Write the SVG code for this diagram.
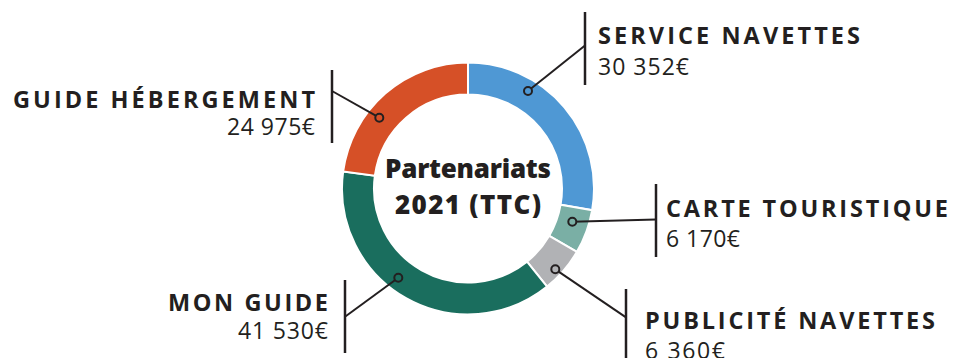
<svg xmlns="http://www.w3.org/2000/svg" width="968" height="358" viewBox="0 0 968 358">
<style>
.seg{stroke:#fff;stroke-width:2;stroke-linejoin:miter}
.lead{stroke:#231f20;stroke-width:2;fill:none}
.bar{stroke:#231f20;stroke-width:2.5}
.dot{stroke:#231f20;stroke-width:2}
.t{font-family:"Open Sans","Noto Sans","Liberation Sans",sans-serif;font-weight:700;font-size:23.5px;fill:#231f20}
.v{font-family:"Open Sans","Noto Sans","Liberation Sans",sans-serif;font-weight:400;font-size:23px;fill:#231f20}
.c{font-family:"Open Sans","Noto Sans","Liberation Sans",sans-serif;font-weight:800;font-size:26px;fill:#231f20;text-anchor:middle}
</style>
<rect width="968" height="358" fill="#fff"/>
<g id="donut">
<path class="seg" fill="#4f98d4" d="M468,62.5 A126,126 0 0 1 592.13,210.14 L560.60,204.65 A94,94 0 0 0 468,94.5 Z"/>
<path class="seg" fill="#7aafa5" d="M592.13,210.14 A126,126 0 0 1 576.90,251.87 L549.25,235.78 A94,94 0 0 0 560.60,204.65 Z"/>
<path class="seg" fill="#b1b2b5" d="M576.90,251.87 A126,126 0 0 1 547.08,286.60 L526.99,261.68 A94,94 0 0 0 549.25,235.78 Z"/>
<path class="seg" fill="#1a6e5e" d="M547.08,286.60 A126,126 0 0 1 343.17,171.39 L374.87,175.73 A94,94 0 0 0 526.99,261.68 Z"/>
<path class="seg" fill="#d65027" d="M343.17,171.39 A126,126 0 0 1 468,62.5 L468,94.5 A94,94 0 0 0 374.87,175.73 Z"/>
</g>
<g id="title">
<text class="c" x="468" y="177.5" textLength="166" lengthAdjust="spacing">Partenariats</text>
<text class="c" x="468" y="214" textLength="146" lengthAdjust="spacing">2021 (TTC)</text>
</g>
<g id="connectors">
<line class="lead" x1="528" y1="91" x2="585" y2="45.5"/>
<line class="lead" x1="572.3" y1="221.7" x2="656" y2="219.5"/>
<line class="lead" x1="555.3" y1="269.3" x2="626" y2="317.3"/>
<line class="lead" x1="398.3" y1="277.7" x2="345" y2="316.7"/>
<line class="lead" x1="379.3" y1="117.7" x2="332" y2="91"/>
<line class="bar" x1="585" y1="12" x2="585" y2="85"/>
<line class="bar" x1="656" y1="184" x2="656" y2="257"/>
<line class="bar" x1="626" y1="289" x2="626" y2="360"/>
<line class="bar" x1="345" y1="280" x2="345" y2="353"/>
<line class="bar" x1="332" y1="70" x2="332" y2="143"/>
<circle class="dot" cx="528" cy="91" r="4" fill="#4f98d4"/>
<circle class="dot" cx="572.3" cy="221.7" r="4" fill="#7aafa5"/>
<circle class="dot" cx="555.3" cy="269.3" r="4" fill="#b1b2b5"/>
<circle class="dot" cx="398.3" cy="277.7" r="4" fill="#1a6e5e"/>
<circle class="dot" cx="379.3" cy="117.7" r="4" fill="#d65027"/>
</g>
<g id="service-navettes">
<text class="t" x="598" y="44" textLength="262" lengthAdjust="spacing">SERVICE NAVETTES</text>
<text class="v" x="598" y="75" textLength="91" lengthAdjust="spacing">30 352€</text>
</g>
<g id="carte-touristique">
<text class="t" x="666" y="217" textLength="282" lengthAdjust="spacing">CARTE TOURISTIQUE</text>
<text class="v" x="666" y="247" textLength="74" lengthAdjust="spacing">6 170€</text>
</g>
<g id="publicite-navettes">
<text class="t" x="645" y="329" textLength="290" lengthAdjust="spacing">PUBLICITÉ NAVETTES</text>
<text class="v" x="645" y="358.5" textLength="80" lengthAdjust="spacing">6 360€</text>
</g>
<g id="mon-guide">
<text class="t" x="328" y="311" text-anchor="end" textLength="160" lengthAdjust="spacing">MON GUIDE</text>
<text class="v" x="328" y="338.5" text-anchor="end" textLength="90" lengthAdjust="spacing">41 530€</text>
</g>
<g id="guide-hebergement">
<text class="t" x="315" y="107.5" text-anchor="end" textLength="302" lengthAdjust="spacing">GUIDE HÉBERGEMENT</text>
<text class="v" x="315" y="135" text-anchor="end" textLength="88" lengthAdjust="spacing">24 975€</text>
</g>
</svg>
